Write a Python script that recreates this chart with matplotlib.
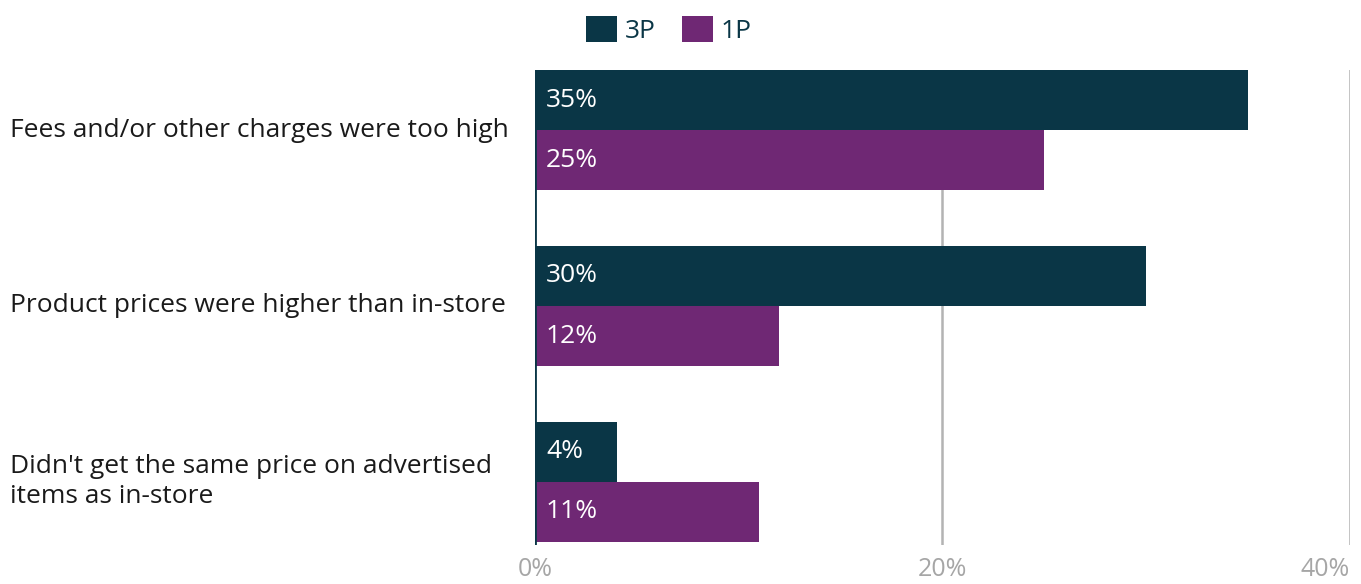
import matplotlib.pyplot as plt
import matplotlib.transforms as mtransforms
import numpy as np

plt.rcParams['font.family'] = ['Open Sans', 'DejaVu Sans']

categories = ["Fees and/or other charges were too high",
              "Product prices were higher than in-store",
              "Didn't get the same price on advertised\nitems as in-store"]
series_names = ["3P", "1P"]
values_3p = [35, 30, 4]
values_1p = [25, 12, 11]
xticks = [0, 20, 40]

c3p = "#0a3646"
c1p = "#6f2874"

fig = plt.figure(figsize=(13.61, 5.84), dpi=100)
ax = fig.add_axes([0.3931, 0.0668, 0.5988, 0.8132])

y = np.arange(len(categories))
h = 0.342
b1 = ax.barh(y - h / 2, values_3p, height=h, color=c3p, label=series_names[0], zorder=3)
b2 = ax.barh(y + h / 2, values_1p, height=h, color=c1p, label=series_names[1], zorder=3)

for bars, vals in [(b1, values_3p), (b2, values_1p)]:
    for bar, v in zip(bars, vals):
        ax.annotate(f"{v}%", (0, bar.get_y() + bar.get_height() / 2),
                    xytext=(11, 0), textcoords="offset pixels",
                    ha="left", va="center", color="white", fontsize=19, zorder=4)

ax.set_xlim(0, 40)
ax.set_ylim(2.36, -h)
ax.set_xticks(xticks)
labels = ax.set_xticklabels([f"{t}%" for t in xticks], color="#a6a6a6", fontsize=18)
labels[-1].set_horizontalalignment("right")
ax.tick_params(axis="x", length=0, pad=9)
ax.set_yticks([])
for s in ["top", "right", "bottom", "left"]:
    ax.spines[s].set_visible(False)
ax.axvline(0, color=c3p, lw=2, zorder=5)
for t in xticks[1:]:
    ax.axvline(t, color="#b3b3b3", lw=1.8, zorder=1)

trans = mtransforms.blended_transform_factory(fig.transFigure, ax.transData)
for yi, cat in zip(y, categories):
    ax.text(10 / 1361, yi, cat, transform=trans, ha="left", va="center",
            fontsize=19, color="#1a1a1a", linespacing=1.25)

fig.legend(handles=[b1, b2], loc="upper center", bbox_to_anchor=(0.4915, 1.0),
           ncol=2, frameon=False, fontsize=19, handlelength=1.16, handleheight=1.16,
           handletextpad=0.3, columnspacing=1.0, labelcolor=c3p, borderaxespad=0.2)

fig.savefig("out.png", dpi=100)
